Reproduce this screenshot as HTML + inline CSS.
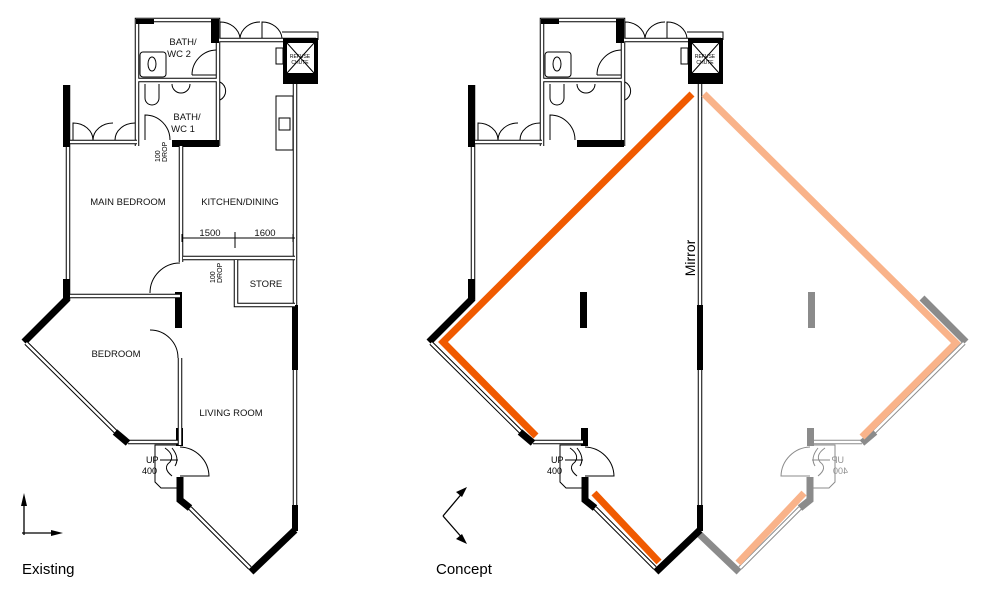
<!DOCTYPE html>
<html><head><meta charset="utf-8"><style>
html,body{margin:0;padding:0;background:#fff}
svg{display:block}
text{font-family:"Liberation Sans",sans-serif}
.t{font-size:9.5px;fill:#111}
.wo{stroke:#000;stroke-width:4.5;fill:none}
.wi{stroke:#fff;stroke-width:2.5;fill:none}
.th{stroke:#000;stroke-width:1;fill:none}
.bk{fill:#000}
</style></head><body>
<svg width="990" height="596" viewBox="0 0 990 596" xmlns="http://www.w3.org/2000/svg">
<defs>
<g id="top">
  <path class="wo" d="M137,146 V20 H218 V146 M137,80 H218 M218,40 H316"/>
  <path class="wi" d="M137,146 V20 H218 V146 M137,80 H218 M218,40 H316"/>
  <rect class="bk" x="136" y="19" width="18" height="5"/>
  <rect class="bk" x="211" y="19" width="8" height="24"/>
  <rect class="bk" x="172" y="140" width="47" height="7"/>
  <rect class="th" x="140" y="52" width="26" height="25" rx="3"/>
  <ellipse class="th" cx="152" cy="64" rx="4" ry="7"/>
  <path class="th" d="M192,75 A25,25 0 0 1 216,50 M192,75 H216"/>
  <path class="th" d="M145,84 V98 A7,7 0 0 0 159,98 V84 M172,84 A9,9 0 0 0 190,84"/>
  <path class="th" d="M220,82 A10,10 0 0 1 220,100"/>
  <path class="th" d="M145,140 V115 A25,25 0 0 1 170,140"/>
  <path class="th" d="M220,38 V22 A20,18 0 0 1 240,38 M240,38 A20,18 0 0 1 260,22 M262,38 V22 A20,18 0 0 1 282,38 M282,32 H318 V40"/>
  <rect x="283" y="38" width="35" height="46" fill="#000"/>
  <rect x="287" y="43" width="27" height="30" fill="#fff"/>
  <path class="th" d="M287,43 L314,73 M314,43 L287,73"/>
  <rect class="th" x="276" y="48" width="7" height="16"/>
  <text x="300" y="58" font-size="5" text-anchor="middle">REFUSE</text>
  <text x="300" y="64" font-size="5" text-anchor="middle">CHUTE</text>
  <path class="wo" d="M68,85 V300 M70,142 H137"/>
  <path class="wi" d="M68,85 V300 M70,142 H137"/>
  <rect class="bk" x="63" y="85" width="7" height="62"/>
  <rect class="bk" x="63" y="279" width="7" height="20"/>
  <path class="th" d="M73,140 V123 A20,17 0 0 1 93,140 M93,140 A20,17 0 0 1 113,123 M115,140 A20,17 0 0 1 135,123"/>
  <path class="wo" d="M295,84 V530"/>
  <path class="wi" d="M295,84 V530"/>
  <rect class="bk" x="292" y="305" width="6" height="65"/>
  <rect class="bk" x="292" y="505" width="6" height="26"/>
  <rect class="bk" x="175" y="292" width="7" height="36"/>
  <rect class="bk" x="176" y="428" width="7" height="18"/>
</g>
<g id="low">
  <path d="M68,298 L24,342" stroke="#000" stroke-width="7"/>
  <path class="wo" d="M26,343 L122,438 M128,442 H178"/>
  <path class="wi" d="M26,343 L122,438 M128,442 H178"/>
  <path d="M115,432 L128,443" stroke="#000" stroke-width="7"/>
  <path class="th" d="M178,445 H155 V482 L161,488 H178"/>
  <path class="th" d="M160,460 H178 M165,448 Q175,455 170,462 Q162,468 172,476 M172,448 Q180,458 175,466"/>
  <path class="th" d="M180,447 A30,30 0 0 1 209,476 H180"/>
  <path d="M180,477 V500 L190,508" stroke="#000" stroke-width="7" fill="none"/>
  <path class="wo" d="M190,508 L250,568"/>
  <path class="wi" d="M190,508 L250,568"/>
  <path d="M251,572 L295,530" stroke="#000" stroke-width="7"/>
  <text x="146" y="463" font-size="9">UP</text>
  <text x="142" y="474" font-size="9">400</text>
</g>
</defs>

<use href="#top"/>
<use href="#low"/>
<path class="wo" d="M181,146 V262 M183,258 H295 M236,260 V305 H295 M70,296 H180 M180,358 V445"/>
<path class="wi" d="M181,146 V262 M183,258 H295 M236,260 V305 H295 M70,296 H180 M180,358 V445"/>
<rect x="276" y="96" width="17" height="54" fill="none" stroke="#000"/>
<rect x="279" y="118" width="11" height="12" fill="none" stroke="#000"/>
<path class="th" d="M182,238 H295 M235,232 V248 M182,234 V242 M293,234 V242"/>
<path class="th" d="M150,293 A30,30 0 0 1 180,263 M150,330 A28,28 0 0 1 178,358"/>
<text class="t" x="210" y="236" font-size="8.5" text-anchor="middle">1500</text>
<text class="t" x="265" y="236" font-size="8.5" text-anchor="middle">1600</text>
<text class="t" x="183" y="45" text-anchor="middle">BATH/</text>
<text class="t" x="179" y="57" text-anchor="middle">WC 2</text>
<text class="t" x="187" y="120" text-anchor="middle">BATH/</text>
<text class="t" x="183" y="132" text-anchor="middle">WC 1</text>
<text class="t" x="128" y="205" text-anchor="middle">MAIN BEDROOM</text>
<text class="t" x="240" y="205" text-anchor="middle">KITCHEN/DINING</text>
<text class="t" x="266" y="287" text-anchor="middle">STORE</text>
<text class="t" x="116" y="357" text-anchor="middle">BEDROOM</text>
<text class="t" x="231" y="416" text-anchor="middle">LIVING ROOM</text>
<text font-size="7" transform="translate(160,162) rotate(-90)">100</text>
<text font-size="7" transform="translate(167,162) rotate(-90)">DROP</text>
<text font-size="7" transform="translate(215,283) rotate(-90)">100</text>
<text font-size="7" transform="translate(222,283) rotate(-90)">DROP</text>
<path d="M24,535 V500 M22,533 H56" stroke="#000" stroke-width="1.3"/>
<path d="M24,493 L21,506 H27 Z M63,533 L51,530 V536 Z"/>
<text x="22" y="574" font-size="15">Existing</text>

<g transform="translate(405,0)"><use href="#top"/><use href="#low"/></g>
<g transform="translate(990,0) scale(-1,1)" opacity="0.45">
  <use href="#low"/>
  <rect class="bk" x="175" y="292" width="7" height="36"/>
  <rect class="bk" x="176" y="428" width="7" height="18"/>
</g>
<g stroke-linecap="butt" fill="none" stroke-width="7">
  <path d="M692,94 L443,342 L536,436" stroke="#f05a00"/>
  <path d="M594,493 L659,562" stroke="#f05a00"/>
  <path d="M704,94 L956,343 L862,437" stroke="#f9b38a"/>
  <path d="M804,493 L738,563" stroke="#f9b38a"/>
</g>
<text font-size="14" transform="translate(695,258) rotate(-90)" text-anchor="middle">Mirror</text>
<path d="M443,516 L464,491 M443,516 L464,540" stroke="#000" stroke-width="1.3"/>
<path d="M467,487 L456,492 L462,497 Z M467,544 L456,539 L462,534 Z"/>
<text x="436" y="574" font-size="15">Concept</text>
</svg>
</body></html>
